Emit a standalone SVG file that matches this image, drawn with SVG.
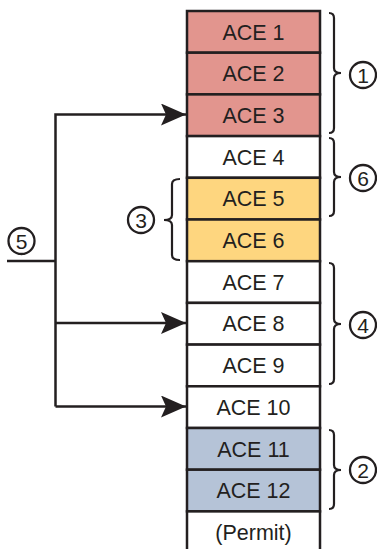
<svg xmlns="http://www.w3.org/2000/svg" width="377" height="549" viewBox="0 0 377 549">
<defs>
<style>
.row{stroke:#231f20;stroke-width:2.5}
.red{fill:#e2958e}
.yel{fill:#fed67f}
.blu{fill:#b5c3d7}
.wht{fill:#ffffff}
.lbl{font-family:"Liberation Sans",Arial,sans-serif;font-size:21.5px;fill:#231f20;text-anchor:middle}
.num{font-family:"Liberation Sans",Arial,sans-serif;font-size:21px;fill:#231f20;text-anchor:middle}
.circ{fill:#fff;stroke:#231f20;stroke-width:2.3}
.br{fill:none;stroke:#231f20;stroke-width:2.2}
.ln{fill:none;stroke:#231f20;stroke-width:2.5}
</style>
<marker id="ah" viewBox="0 0 25 22" refX="25" refY="11" markerWidth="25" markerHeight="22" markerUnits="userSpaceOnUse" orient="auto">
<path d="M0 0 L25 11 L0 22 L5 11 Z" fill="#231f20"/>
</marker>
</defs>
<rect width="377" height="549" fill="#fff"/>
<g id="acl">
<g id="ace1"><rect class="row red" x="187" y="11" width="133" height="41.7"/><text class="lbl" x="253.5" y="39.5">ACE 1</text></g>
<g id="ace2"><rect class="row red" x="187" y="52.7" width="133" height="41.7"/><text class="lbl" x="253.5" y="81.2">ACE 2</text></g>
<g id="ace3"><rect class="row red" x="187" y="94.4" width="133" height="41.7"/><text class="lbl" x="253.5" y="122.9">ACE 3</text></g>
<g id="ace4"><rect class="row wht" x="187" y="136.1" width="133" height="41.7"/><text class="lbl" x="253.5" y="164.6">ACE 4</text></g>
<g id="ace5"><rect class="row yel" x="187" y="177.8" width="133" height="41.7"/><text class="lbl" x="253.5" y="206.3">ACE 5</text></g>
<g id="ace6"><rect class="row yel" x="187" y="219.5" width="133" height="41.7"/><text class="lbl" x="253.5" y="248">ACE 6</text></g>
<g id="ace7"><rect class="row wht" x="187" y="261.2" width="133" height="41.7"/><text class="lbl" x="253.5" y="289.7">ACE 7</text></g>
<g id="ace8"><rect class="row wht" x="187" y="302.9" width="133" height="41.7"/><text class="lbl" x="253.5" y="331.4">ACE 8</text></g>
<g id="ace9"><rect class="row wht" x="187" y="344.6" width="133" height="41.7"/><text class="lbl" x="253.5" y="373.1">ACE 9</text></g>
<g id="ace10"><rect class="row wht" x="187" y="386.3" width="133" height="41.7"/><text class="lbl" x="253.5" y="414.8">ACE 10</text></g>
<g id="ace11"><rect class="row blu" x="187" y="428" width="133" height="41.7"/><text class="lbl" x="253.5" y="456.5">ACE 11</text></g>
<g id="ace12"><rect class="row blu" x="187" y="469.7" width="133" height="41.7"/><text class="lbl" x="253.5" y="498.2">ACE 12</text></g>
<g id="permit"><rect class="row wht" x="187" y="511.4" width="133" height="45"/><text class="lbl" x="253.5" y="539.9">(Permit)</text></g>
</g>
<g id="braces">
<path class="br" d="M329 13 Q334 13 334 18 L334 68 Q334 73 341 73 Q334 73 334 78 L334 128 Q334 133 329 133"/>
<path class="br" d="M329 138 Q334 138 334 143 L334 172 Q334 177 341 177 Q334 177 334 182 L334 211 Q334 216 329 216"/>
<path class="br" d="M329 263 Q334 263 334 268 L334 319 Q334 324 341 324 Q334 324 334 329 L334 379 Q334 384 329 384"/>
<path class="br" d="M329 430 Q334 430 334 435 L334 465 Q334 470 341 470 Q334 470 334 475 L334 504 Q334 509 329 509"/>
<path class="br" d="M180 179 Q172 179 172 184 L172 215 Q172 220 164 220 Q172 220 172 225 L172 255 Q172 260 180 260"/>
</g>
<g id="labels">
<g id="n1"><circle class="circ" cx="363" cy="75" r="13"/><text class="num" x="363" y="82.5">1</text></g>
<g id="n6"><circle class="circ" cx="363" cy="178" r="13"/><text class="num" x="363" y="185.5">6</text></g>
<g id="n4"><circle class="circ" cx="363" cy="325" r="13"/><text class="num" x="363" y="332.5">4</text></g>
<g id="n2"><circle class="circ" cx="363" cy="470" r="13"/><text class="num" x="363" y="477.5">2</text></g>
<g id="n3"><circle class="circ" cx="141" cy="220" r="13"/><text class="num" x="141" y="227.5">3</text></g>
<g id="n5"><circle class="circ" cx="21.5" cy="241" r="13"/><text class="num" x="21.5" y="248.5">5</text></g>
</g>
<g id="connectors">
<path class="ln" d="M7 261 H55.5"/>
<path class="ln" d="M55.5 406.5 V114.5 H186" marker-end="url(#ah)"/>
<path class="ln" d="M55.5 323 H186" marker-end="url(#ah)"/>
<path class="ln" d="M55.5 406.5 H186" marker-end="url(#ah)"/>
</g>
</svg>
